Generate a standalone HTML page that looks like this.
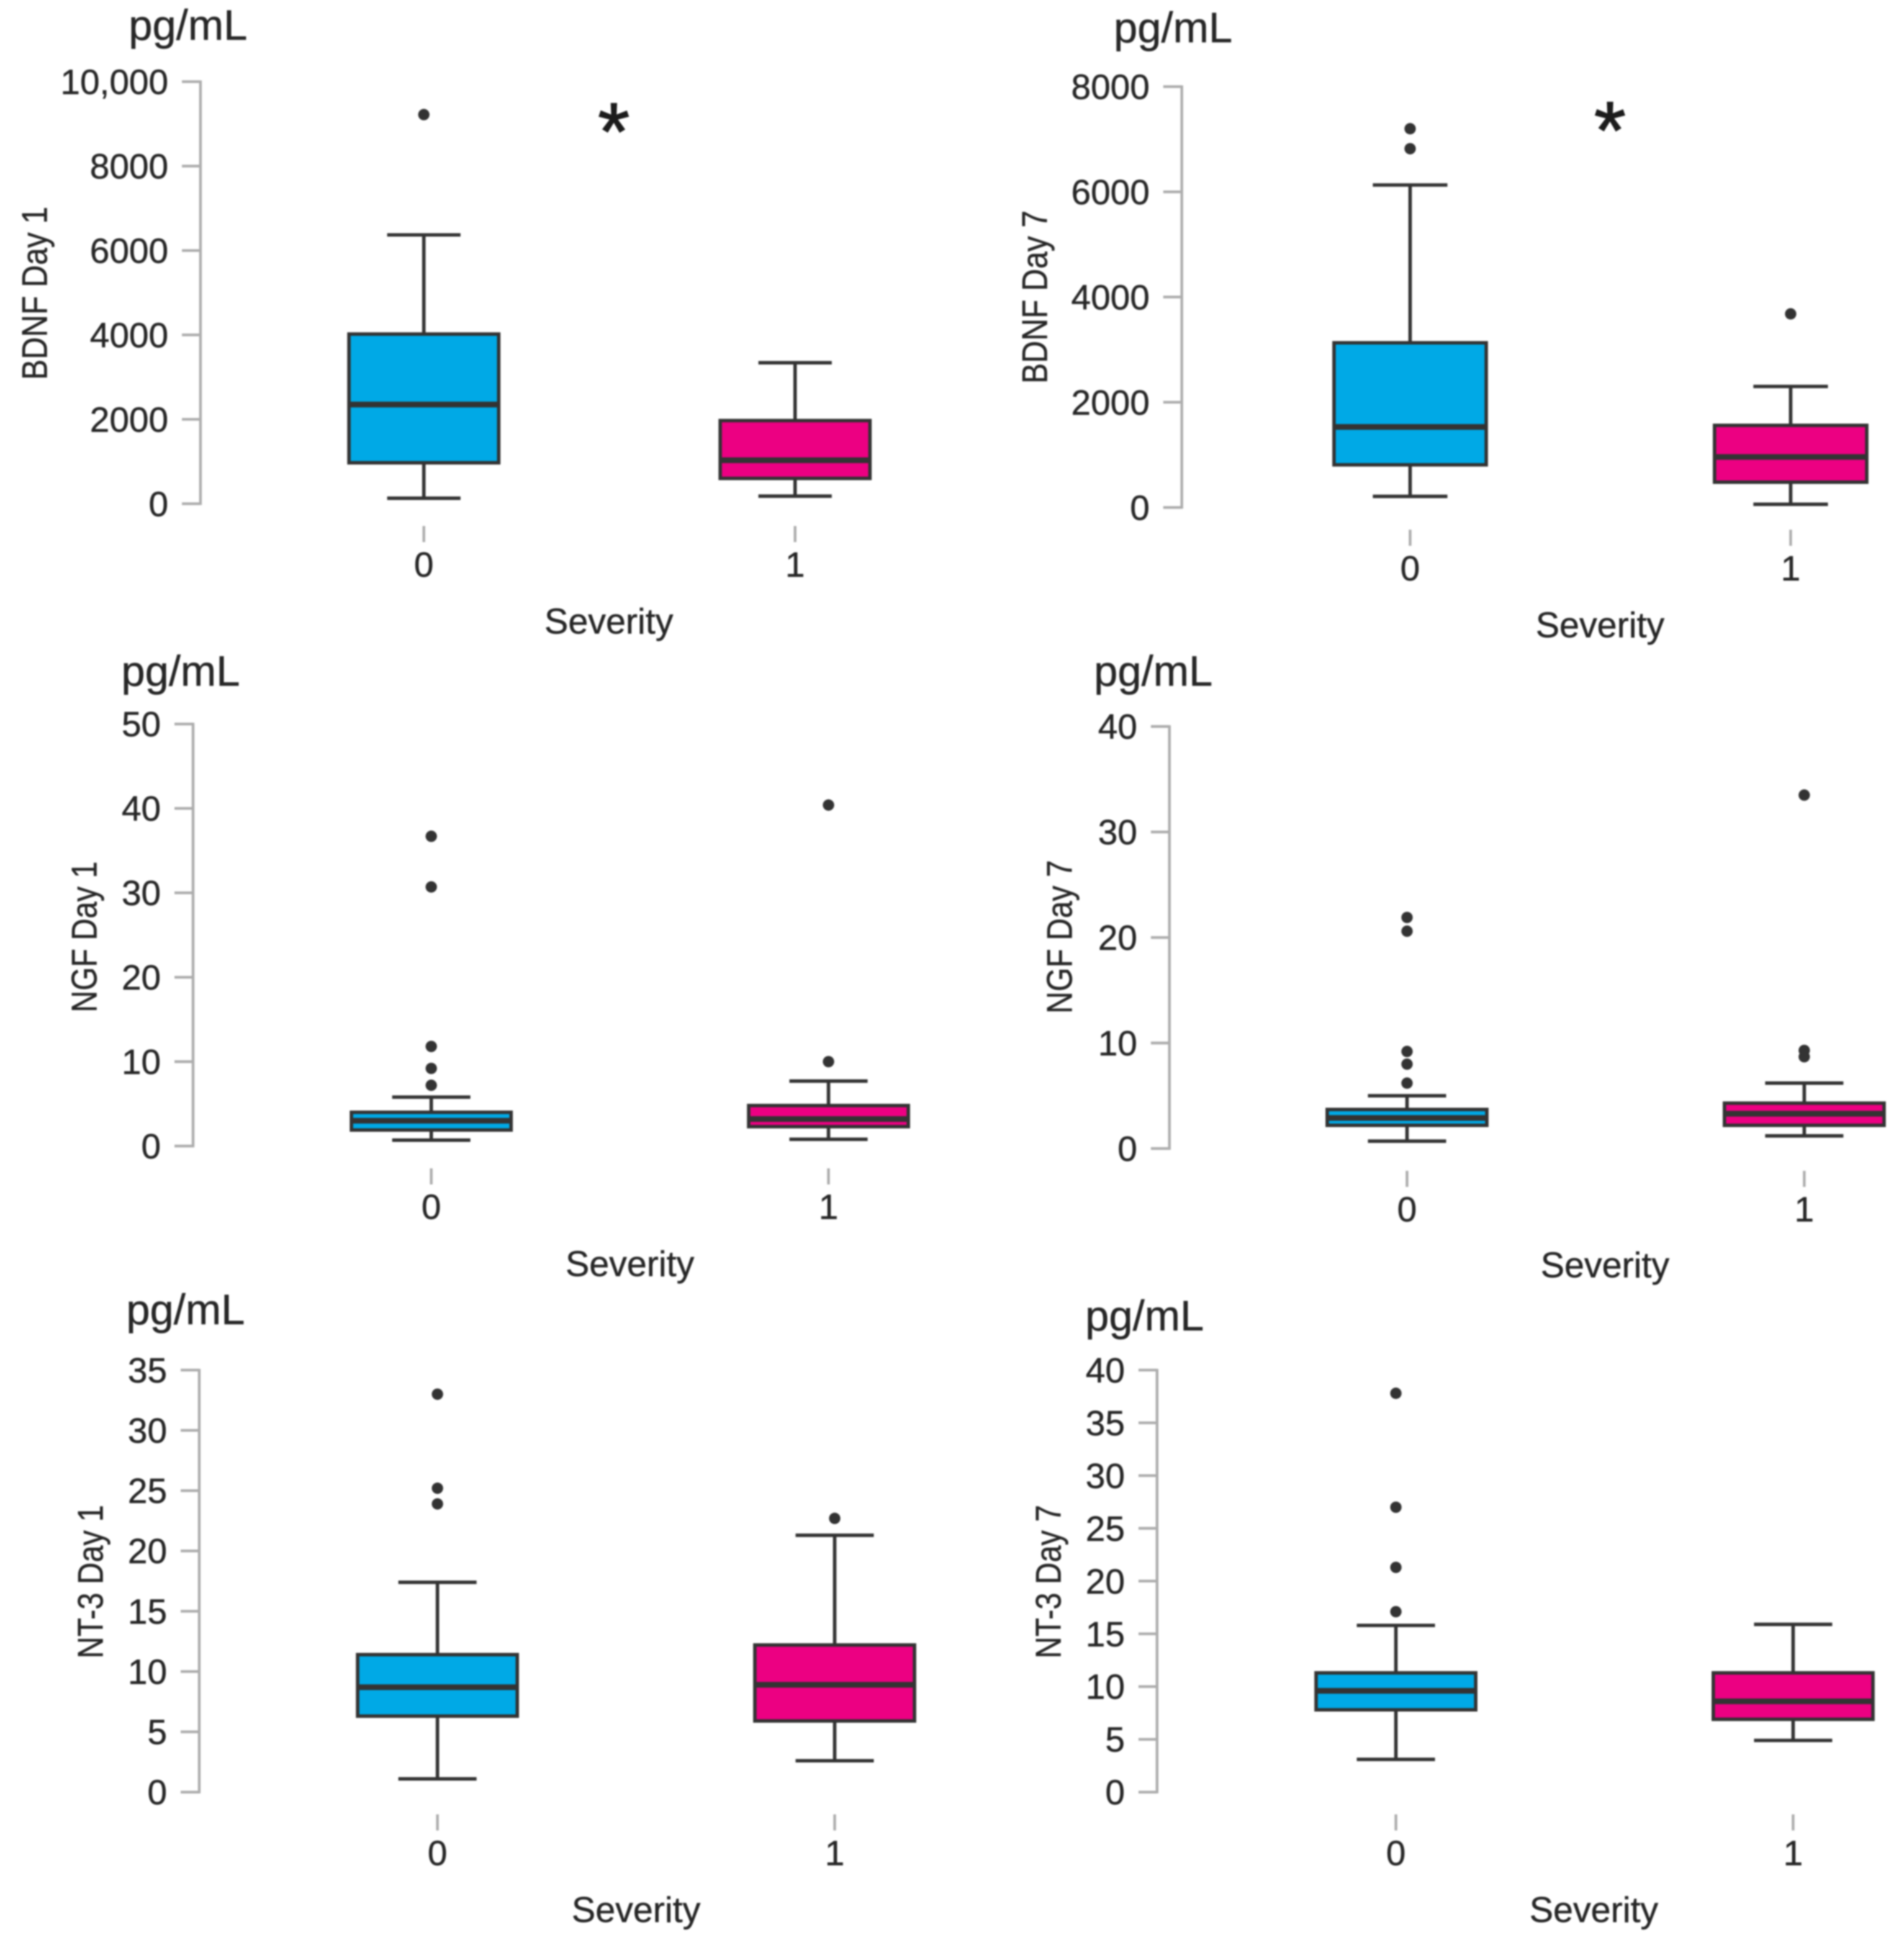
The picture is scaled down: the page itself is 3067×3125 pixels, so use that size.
<!DOCTYPE html>
<html lang="en">
<head>
<meta charset="utf-8">
<title>Neurotrophin levels by severity</title>
<style>
  html, body { margin: 0; padding: 0; background: #fff; }
  svg { display: block; filter: blur(1.2px); }
  text { font-family: "Liberation Sans", sans-serif; fill: #262626; stroke: #262626; stroke-width: 0.25px; }
  .tick { font-size: 28.5px; }
  .unit { font-size: 34.5px; }
  .xtitle { font-size: 28.8px; text-anchor: middle; }
  .ytitle { font-size: 29px; text-anchor: middle; }
  .star { font-size: 66px; text-anchor: middle; fill: #1c1c1c; stroke: #1c1c1c; stroke-width: 0.8px; }
</style>
</head>
<body>
<svg id="chart" xmlns="http://www.w3.org/2000/svg" width="3067" height="3125" viewBox="0 0 1538.6 1567.5" preserveAspectRatio="none">
  <rect x="0" y="0" width="1538.6" height="1567.5" fill="#fff"/>

  <text class="unit" x="104" y="32">pg/mL</text>
  <text class="unit" x="900" y="34">pg/mL</text>
  <text class="unit" x="98" y="554">pg/mL</text>
  <text class="unit" x="884" y="554">pg/mL</text>
  <text class="unit" x="102" y="1070">pg/mL</text>
  <text class="unit" x="877" y="1075">pg/mL</text>

  <text class="ytitle" transform="translate(38 237) rotate(-90)" textLength="140" lengthAdjust="spacingAndGlyphs">BDNF Day 1</text>
  <text class="ytitle" transform="translate(846 240) rotate(-90)" textLength="140" lengthAdjust="spacingAndGlyphs">BDNF Day 7</text>
  <text class="ytitle" transform="translate(78 757) rotate(-90)" textLength="122" lengthAdjust="spacingAndGlyphs">NGF Day 1</text>
  <text class="ytitle" transform="translate(866 757) rotate(-90)" textLength="124" lengthAdjust="spacingAndGlyphs">NGF Day 7</text>
  <text class="ytitle" transform="translate(83 1278) rotate(-90)" textLength="124" lengthAdjust="spacingAndGlyphs">NT-3 Day 1</text>
  <text class="ytitle" transform="translate(857 1278) rotate(-90)" textLength="124" lengthAdjust="spacingAndGlyphs">NT-3 Day 7</text>

  <text class="xtitle" x="492" y="512">Severity</text>
  <text class="xtitle" x="1293" y="515">Severity</text>
  <text class="xtitle" x="509" y="1031">Severity</text>
  <text class="xtitle" x="1297" y="1032">Severity</text>
  <text class="xtitle" x="514" y="1553">Severity</text>
  <text class="xtitle" x="1288" y="1553">Severity</text>

  <text class="star" x="496" y="129">*</text>
  <text class="star" x="1301" y="128">*</text>
</svg>

<script>
// Shared category labels
const severityCategories = ['0', '1'];

// BDNF Day 1
const bdnf1TickValues = [0, 2000, 4000, 6000, 8000, 10000];
const bdnf1TickLabels = ['0', '2000', '4000', '6000', '8000', '10,000'];
const bdnf1WhiskerLow = [130, 180];
const bdnf1Q1 = [970, 600];
const bdnf1Median = [2350, 1030];
const bdnf1Q3 = [4020, 1970];
const bdnf1WhiskerHigh = [6370, 3340];
const bdnf1Outliers = [[9220], []];

// BDNF Day 7
const bdnf7TickValues = [0, 2000, 4000, 6000, 8000];
const bdnf7TickLabels = ['0', '2000', '4000', '6000', '8000'];
const bdnf7WhiskerLow = [210, 60];
const bdnf7Q1 = [810, 480];
const bdnf7Median = [1530, 960];
const bdnf7Q3 = [3130, 1560];
const bdnf7WhiskerHigh = [6130, 2300];
const bdnf7Outliers = [[6820, 7200], [3680]];

// NGF Day 1
const ngf1TickValues = [0, 10, 20, 30, 40, 50];
const ngf1TickLabels = ['0', '10', '20', '30', '40', '50'];
const ngf1WhiskerLow = [0.7, 0.8];
const ngf1Q1 = [1.9, 2.3];
const ngf1Median = [3, 3.2];
const ngf1Q3 = [4, 4.8];
const ngf1WhiskerHigh = [5.8, 7.7];
const ngf1Outliers = [[7.2, 9.2, 11.8, 30.7, 36.7], [10, 40.4]];

// NGF Day 7
const ngf7TickValues = [0, 10, 20, 30, 40];
const ngf7TickLabels = ['0', '10', '20', '30', '40'];
const ngf7WhiskerLow = [0.7, 1.2];
const ngf7Q1 = [2.2, 2.2];
const ngf7Median = [2.9, 3.3];
const ngf7Q3 = [3.7, 4.3];
const ngf7WhiskerHigh = [5, 6.2];
const ngf7Outliers = [[6.2, 8, 9.2, 20.6, 21.9], [8.7, 9.3, 33.5]];

// NT-3 Day 1
const nt1TickValues = [0, 5, 10, 15, 20, 25, 30, 35];
const nt1TickLabels = ['0', '5', '10', '15', '20', '25', '30', '35'];
const nt1WhiskerLow = [1.1, 2.6];
const nt1Q1 = [6.3, 5.9];
const nt1Median = [8.7, 8.9];
const nt1Q3 = [11.4, 12.2];
const nt1WhiskerHigh = [17.4, 21.3];
const nt1Outliers = [[23.9, 25.2, 33], [22.7]];

// NT-3 Day 7
const nt7TickValues = [0, 5, 10, 15, 20, 25, 30, 35, 40];
const nt7TickLabels = ['0', '5', '10', '15', '20', '25', '30', '35', '40'];
const nt7WhiskerLow = [3.1, 4.9];
const nt7Q1 = [7.8, 6.9];
const nt7Median = [9.6, 8.6];
const nt7Q3 = [11.3, 11.3];
const nt7WhiskerHigh = [15.8, 15.9];
const nt7Outliers = [[17.1, 21.3, 27, 37.8], []];

const AXIS_GREY = '#adadad';
const INK = '#333333';
const FILLS = ['#00a9e6', '#ec0082'];
const svg = document.getElementById('chart');

function make(tag, attrs) {
  const node = document.createElementNS('http://www.w3.org/2000/svg', tag);
  for (const key in attrs) node.setAttribute(key, attrs[key]);
  svg.appendChild(node);
  return node;
}

function drawPanel(id, frame, ticks, labels, low, q1, med, q3, high, outliers) {
  const domainMax = ticks[ticks.length - 1];
  const y = v => frame.bottom - (v / domainMax) * (frame.bottom - frame.top);
  const x = i => frame.cat0 + i * (frame.cat1 - frame.cat0);

  const axis = make('line', { x1: frame.axis, x2: frame.axis, y1: y(domainMax) - 1, y2: y(0) + 1, stroke: AXIS_GREY, 'stroke-width': 2.2 });
  
  

  ticks.forEach((tick, i) => {
    const mark = make('line', { x1: frame.axis - 15, x2: frame.axis, y1: y(tick), y2: y(tick), stroke: AXIS_GREY, 'stroke-width': 2.2 });
    
    
    const label = make('text', { class: 'tick', x: frame.axis - 26, y: y(tick) + 10, 'text-anchor': 'end' });
    label.textContent = labels[i];
    
    
  });

  severityCategories.forEach((cat, i) => {
    const cx = x(i);
    const hw = frame.half;
    const cap = hw * 0.49;

    const xTick = make('line', { x1: cx, x2: cx, y1: y(0) + 18, y2: y(0) + 31, stroke: AXIS_GREY, 'stroke-width': 2.2 });
    
    

    const xLabel = make('text', { class: 'tick', x: cx, y: y(0) + 59, 'text-anchor': 'middle' });
    xLabel.textContent = cat;
    
    

    const whiskerStem = make('line', { x1: cx, x2: cx, y1: y(low[i]), y2: y(high[i]), stroke: INK, 'stroke-width': 2.8 });
    
    

    const capLow = make('line', { x1: cx - cap, x2: cx + cap, y1: y(low[i]), y2: y(low[i]), stroke: INK, 'stroke-width': 2.8 });
    
    

    const capHigh = make('line', { x1: cx - cap, x2: cx + cap, y1: y(high[i]), y2: y(high[i]), stroke: INK, 'stroke-width': 2.8 });
    
    

    const box = make('rect', { x: cx - hw, y: y(q3[i]), width: hw * 2, height: y(q1[i]) - y(q3[i]), fill: FILLS[i], stroke: INK, 'stroke-width': 2.8 });
    
    

    const median = make('line', { x1: cx - hw, x2: cx + hw, y1: y(med[i]), y2: y(med[i]), stroke: INK, 'stroke-width': 4.6 });
    
    

    outliers[i].forEach((value, k) => {
      const dot = make('circle', { cx: cx, cy: y(value), r: 4.6, fill: INK });
      
      
    });
  });
}

drawPanel('bdnf-day-1', { axis: 162, top: 66, bottom: 407, cat0: 342.5, cat1: 642.5, half: 60.5 },
  bdnf1TickValues, bdnf1TickLabels, bdnf1WhiskerLow, bdnf1Q1, bdnf1Median, bdnf1Q3, bdnf1WhiskerHigh, bdnf1Outliers);
drawPanel('bdnf-day-7', { axis: 955, top: 70, bottom: 410, cat0: 1139.5, cat1: 1447, half: 61.5 },
  bdnf7TickValues, bdnf7TickLabels, bdnf7WhiskerLow, bdnf7Q1, bdnf7Median, bdnf7Q3, bdnf7WhiskerHigh, bdnf7Outliers);
drawPanel('ngf-day-1', { axis: 156, top: 585, bottom: 926, cat0: 348.5, cat1: 669.5, half: 64.5 },
  ngf1TickValues, ngf1TickLabels, ngf1WhiskerLow, ngf1Q1, ngf1Median, ngf1Q3, ngf1WhiskerHigh, ngf1Outliers);
drawPanel('ngf-day-7', { axis: 945, top: 587, bottom: 928, cat0: 1137, cat1: 1458, half: 64.5 },
  ngf7TickValues, ngf7TickLabels, ngf7WhiskerLow, ngf7Q1, ngf7Median, ngf7Q3, ngf7WhiskerHigh, ngf7Outliers);
drawPanel('nt3-day-1', { axis: 161, top: 1107, bottom: 1448, cat0: 353.5, cat1: 674.5, half: 64.5 },
  nt1TickValues, nt1TickLabels, nt1WhiskerLow, nt1Q1, nt1Median, nt1Q3, nt1WhiskerHigh, nt1Outliers);
drawPanel('nt3-day-7', { axis: 935, top: 1107, bottom: 1448, cat0: 1128, cat1: 1449, half: 64.5 },
  nt7TickValues, nt7TickLabels, nt7WhiskerLow, nt7Q1, nt7Median, nt7Q3, nt7WhiskerHigh, nt7Outliers);
</script>
</body>
</html>
